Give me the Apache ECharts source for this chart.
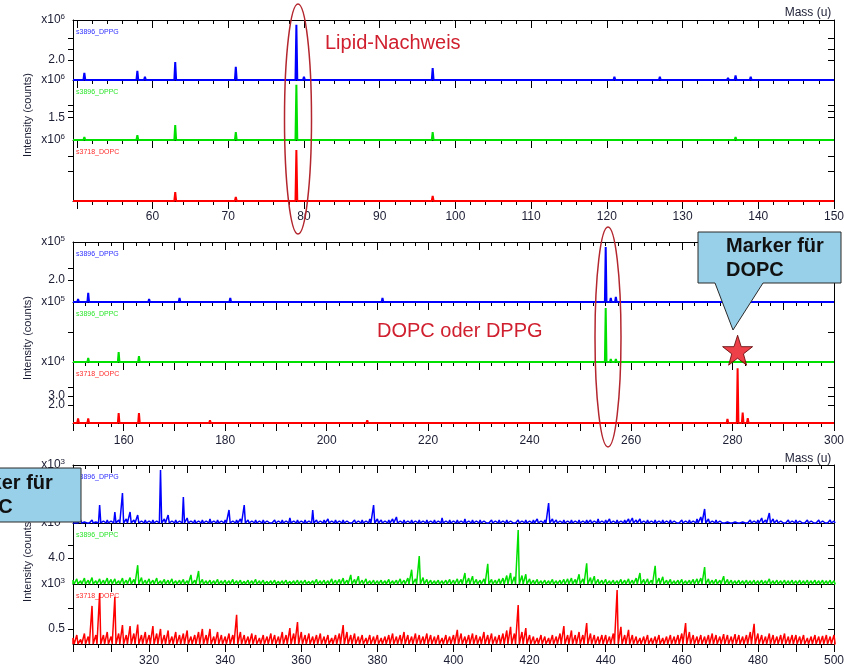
<!DOCTYPE html>
<html><head><meta charset="utf-8">
<script src="https://cdn.jsdelivr.net/npm/echarts@6/dist/echarts.min.js"></script>
<style>html,body{margin:0;padding:0;background:#fff;overflow:hidden}#c{width:844px;height:667px}</style>
</head><body><div id="c"></div>
<script>
// ================= DATA =================
const sampleNames = ['s3896_DPPG', 's3896_DPPC', 's3718_DOPC'];

// Panel 1: m/z 49.5 - 150  (peaks: [mass, intensity])
const p1Range = [49.5, 150];
const p1Blue  = [[51,1.42],[55,1.15],[58,1.51],[59,1.24],[63,1.91],[65,1.17],[69,1.15],[71,1.69],[73,1.17],[77,1.15],[79,3.58],[80,1.24],[81,1.17],[91,1.14],[95,1.17],[97,1.64],[98,1.17],[105,1.15],[111,1.19],[113,1.19],[121,1.24],[123,1.15],[127,1.24],[133,1.17],[136,1.2],[137,1.3],[139,1.24],[141,1.17],[145,1.15],[149,1.15]];
const p1Green = [[51,1.17],[55,1.14],[58,1.2],[63,1.37],[71,1.25],[79,2.04],[80,1.15],[95,1.14],[97,1.25],[111,1.14],[123,1.15],[127,1.14],[137,1.17],[141,1.14]];
const p1Red   = [[58,0.2],[63,0.9],[71,0.4],[79,5.1],[97,0.5],[123,0.15],[137,0.2]];
const p1BlueAxis  = {min:1.1,  max:3.8,  ticks:[2.0,2.5,3.0], labels:[2.0], exp:6};
const p1GreenAxis = {min:1.12, max:2.12, ticks:[1.5,1.6,1.7], labels:[1.5], exp:6};
const p1RedAxis   = {min:0,    max:6.1,  ticks:[3.0,4.5],     labels:[],    exp:6};

// Panel 2: m/z 150 - 300
const p2Range = [150, 300];
const p2Blue  = [[151,1.2],[153,1.46],[156,1.14],[161,1.14],[165,1.2],[167,1.14],[171,1.25],[175,1.14],[181,1.25],[185,1.14],[195,1.13],[209,1.14],[211,1.25],[213,1.15],[229,1.13],[237,1.13],[255,3.37],[256,1.25],[257,1.29],[267,1.12],[273,1.12]];
const p2Green = [[151,0.2],[153,0.4],[155,0.15],[159,1.0],[163,0.6],[167,0.15],[255,5.5],[256,0.3],[257,0.3]];
const p2Red   = [[151,0.5],[153,0.5],[159,1.1],[163,1.1],[165,0.2],[169,0.2],[177,0.3],[183,0.2],[195,0.2],[208,0.3],[223,0.15],[255,0.2],[279,0.45],[281,6.1],[282,1.15],[283,0.55],[284,0.2]];
const p2BlueAxis  = {min:1.08, max:3.58, ticks:[2.0,2.5],   labels:[2.0],     exp:5};
const p2GreenAxis = {min:0,    max:6.1,  ticks:[3.0],       labels:[],        exp:5};
const p2RedAxis   = {min:0,    max:6.8,  ticks:[2.0,3.0,4.0], labels:[2.0,3.0], exp:4};

// Panel 3: m/z 300 - 500, one value per nominal mass 300..500
const p3Start = 300;
const p3Range = [300, 500];
const p3Blue = [
 0.2,0.1,0.3,0.1,0.2,0.3,0.1,1.8,0.2,0.3, 0.2,1.1,0.3,3.0,0.4,1.1,0.3,0.8,0.2,0.3,
 0.2,0.3,0.2,5.3,0.4,0.8,0.2,0.3,0.2,2.6, 0.5,0.2,0.3,0.2,0.3,0.2,0.4,0.2,0.3,0.2,
 0.3,1.3,0.2,0.3,0.4,1.8,0.3,0.2,0.3,0.2, 0.3,0.2,0.2,0.3,0.2,0.3,0.2,0.5,0.2,0.3,
 0.2,0.3,0.2,1.3,0.3,0.2,0.3,0.4,0.2,0.3, 0.2,0.3,0.2,0.2,0.3,0.2,0.3,0.2,0.4,1.8,
 0.4,0.3,0.2,0.3,0.4,0.6,0.2,0.3,0.2,0.3, 0.2,0.3,0.2,0.3,0.2,0.3,0.2,0.5,0.2,0.3,
 0.2,0.3,0.2,0.4,0.2,0.3,0.2,0.3,0.2,0.2, 0.3,0.2,0.3,0.2,0.3,0.2,0.2,0.3,0.2,0.3,
 0.2,0.3,0.4,0.2,0.3,2.0,0.4,0.3,0.2,0.3, 0.2,0.3,0.2,0.3,0.2,0.3,0.3,0.2,0.4,0.2,
 0.3,0.4,0.2,0.3,0.2,0.3,0.4,0.5,0.3,0.4, 0.2,0.3,0.2,0.3,0.2,0.3,0.2,0.3,0.2,0.2,
 0.3,0.2,0.3,0.2,0.4,0.6,1.4,0.4,0.2,0.3, 0.2,0.2,0.1,0.2,0.1,0.2,0.1,0.2,0.3,0.2,
 0.3,0.5,0.3,1.0,0.4,0.3,0.2,0.2,0.3,0.2, 0.3,0.2,0.2,0.3,0.2,0.2,0.3,0.2,0.2,0.3,
 0.2];
const p3Green = [
 0.6,0.8,0.5,0.9,0.6,1.0,0.5,0.8,0.6,0.9, 0.7,0.8,0.5,0.9,0.6,1.0,0.7,2.9,1.0,0.6,
 0.8,0.6,0.9,0.5,0.7,0.6,0.8,0.5,0.6,0.7, 0.5,1.4,0.6,2.0,0.7,0.5,0.6,0.5,0.7,0.5,
 0.6,0.5,0.7,0.5,0.6,0.4,0.6,0.5,0.7,0.5, 0.6,0.4,0.5,0.6,0.4,0.5,0.6,0.4,0.5,0.6,
 0.5,0.6,0.4,0.5,0.7,0.5,0.6,0.5,0.8,0.6, 0.7,0.9,0.6,1.4,0.7,1.2,0.6,0.8,0.5,0.6,
 0.5,0.6,0.5,0.7,0.5,0.6,0.8,0.6,0.9,2.2, 0.8,4.3,1.0,0.7,0.6,0.5,0.6,0.5,0.6,0.7,
 0.6,0.8,0.7,1.7,0.9,1.2,0.7,0.6,0.8,3.1, 0.7,0.6,0.8,0.9,1.3,1.7,1.1,8.3,1.3,1.5,
 0.8,0.6,0.7,0.5,0.6,0.5,0.7,0.5,0.6,0.7, 0.8,0.9,0.7,1.5,0.8,3.2,1.0,1.2,0.7,0.6,
 0.7,0.5,0.6,0.5,0.7,0.6,0.8,0.6,0.9,1.7, 0.7,0.8,0.6,2.8,0.9,1.1,0.6,0.7,0.5,0.6,
 0.7,0.5,0.6,0.7,0.8,0.9,2.6,0.8,0.6,0.7, 0.6,1.2,0.7,0.6,0.5,0.6,0.5,0.6,0.5,0.6,
 0.5,0.6,0.5,0.8,0.5,0.6,0.5,0.6,0.5,0.6, 0.5,0.6,0.5,0.6,0.5,0.6,0.5,0.6,0.5,0.6,
 0.5];
const p3Red = [
 0.2,0.3,0.15,0.35,0.25,1.27,0.3,1.7,0.3,0.4, 0.25,1.57,0.35,0.63,0.3,0.6,0.35,0.65,0.3,0.4,
 0.3,0.6,0.35,0.5,0.3,0.45,0.25,0.4,0.3,0.35, 0.45,0.25,0.3,0.4,0.5,0.3,0.5,0.25,0.4,0.3,
 0.25,0.35,0.3,0.97,0.4,0.3,0.25,0.35,0.3,0.2, 0.3,0.25,0.35,0.3,0.25,0.4,0.3,0.53,0.35,0.73,
 0.4,0.3,0.35,0.25,0.3,0.35,0.25,0.3,0.2,0.3, 0.35,0.63,0.4,0.3,0.35,0.25,0.3,0.2,0.3,0.25,
 0.3,0.2,0.25,0.3,0.35,0.25,0.3,0.4,0.3,0.25, 0.35,0.3,0.25,0.35,0.3,0.25,0.3,0.2,0.3,0.25,
 0.3,0.47,0.35,0.25,0.3,0.35,0.3,0.25,0.4,0.3, 0.35,0.25,0.3,0.35,0.45,0.57,0.35,1.3,0.4,0.53,
 0.3,0.25,0.2,0.3,0.25,0.2,0.3,0.25,0.35,0.6, 0.3,0.45,0.3,0.4,0.3,0.7,0.35,0.3,0.25,0.3,
 0.3,0.25,0.35,1.8,0.57,0.3,0.47,0.3,0.25,0.2, 0.25,0.3,0.2,0.25,0.3,0.2,0.25,0.3,0.25,0.3,
 0.35,0.7,0.4,0.3,0.25,0.3,0.25,0.3,0.35,0.3, 0.25,0.33,0.3,0.25,0.33,0.3,0.25,0.3,0.4,0.67,
 0.35,0.3,0.25,0.35,0.3,0.25,0.3,0.35,0.25,0.3, 0.3,0.25,0.3,0.2,0.25,0.3,0.25,0.27,0.3,0.25,
 0.3];
const p3BlueAxis  = {min:0, max:5.8, ticks:[2.4,3.6], labels:[],    exp:3};
const p3GreenAxis = {min:0, max:9.4, ticks:[4.0,6.0], labels:[4.0], exp:3};
const p3RedAxis   = {min:0, max:2.0, ticks:[0.5,1.2], labels:[0.5], exp:3};

// Annotation marker (star) on the DOPC marker peak
const markerMass = 281;
const markerLevel = 1.2;   // position in green (panel 2) units

// ================= LAYOUT / STYLE =================
const LEFT = 73, WIDTH = 761;
const COLORS = ['#0000ff', '#00e000', '#ff0000'];
const TXT = '#1b1d33';
const FONT = 'Liberation Sans, Arial, sans-serif';

function toPeaks(vals, start) { return vals.map((v, i) => [start + i, v]); }

const panels = [
  {range:p1Range, major:10, minor:2, labelStart:60, labelStep:10, tops:[20,80,140], heights:[60,60,61], labelMargin:10, hw:0.12, lw:2,
   traces:[[p1Blue,p1BlueAxis],[p1Green,p1GreenAxis],[p1Red,p1RedAxis]]},
  {range:p2Range, major:10, minor:2.5, labelStart:160, labelStep:20, tops:[242,302,362], heights:[60,60,61], labelMargin:12, hw:0.16, lw:2,
   traces:[[p2Blue,p2BlueAxis],[p2Green,p2GreenAxis],[p2Red,p2RedAxis]]},
  {range:p3Range, major:10, minor:10/3, labelStart:320, labelStep:20, tops:[465,523,584], heights:[58,61,60], labelMargin:11, hw:0.3, lw:1.5,
   traces:[[toPeaks(p3Blue,p3Start),p3BlueAxis],[toPeaks(p3Green,p3Start),p3GreenAxis],[toPeaks(p3Red,p3Start),p3RedAxis]]}
];

function spikes(peaks, base, hw, range) {
  const d = [[range[0], base]];
  peaks.slice().sort((a,b)=>a[0]-b[0]).forEach(([m,v]) => {
    d.push([m-hw, base], [m, v], [m+hw, base]);
  });
  d.push([range[1], base]);
  return d;
}
function seq(start, step, end) {
  const out = [];
  for (let i = 0; start + i*step <= end + 1e-6; i++) out.push(+(start + i*step).toFixed(4));
  return out;
}
const richY = {b:{fontSize:12, color:TXT, fontFamily:FONT}, s:{fontSize:8, color:TXT, fontFamily:FONT, padding:[0,0,6,0]}};

const grids = [], xAxis = [], yAxis = [], series = [];
let starGrid = null;

panels.forEach((p, pi) => {
  const majStart = Math.ceil(p.range[0]/p.major)*p.major;
  const majors = seq(majStart, p.major, p.range[1]);
  const minors = seq(majStart, p.minor, p.range[1]);
  const labels = seq(p.labelStart, p.labelStep, p.range[1]);
  p.traces.forEach((tr, ti) => {
    const [peaks, ax] = tr;
    const gi = grids.length;
    grids.push({left:LEFT, width:WIDTH, top:p.tops[ti], height:p.heights[ti], outerBoundsMode:'none', containLabel:false});
    const isBottom = ti === 2, isTop = ti === 0;
    const baseX = {gridIndex:gi, type:'value', min:p.range[0], max:p.range[1], splitLine:{show:false}};
    const xi = xAxis.length;
    xAxis.push(Object.assign({}, baseX, {position:'bottom',
      axisLine:{show:true, onZero:false, lineStyle:{color:'#000', width:1}},
      axisTick:{show:true, customValues:majors, length:8, inside:false, lineStyle:{color:'#000', width:1}},
      axisLabel: isBottom ? {show:true, customValues:labels, margin:p.labelMargin, fontSize:12, color:TXT, fontFamily:FONT, hideOverlap:false, formatter:v=>String(v)} : {show:false}
    }));
    xAxis.push(Object.assign({}, baseX, {position:'bottom',
      axisLine:{show:false, onZero:false},
      axisTick:{show:true, customValues:minors, length:4, inside:false, lineStyle:{color:'#000', width:1}},
      axisLabel:{show:false}}));
    if (isTop) {
      xAxis.push(Object.assign({}, baseX, {position:'top',
        axisLine:{show:true, onZero:false, lineStyle:{color:'#000', width:1}},
        axisTick:{show:true, customValues:majors, length:8, inside:true, lineStyle:{color:'#000', width:1}},
        axisLabel:{show:false}}));
      xAxis.push(Object.assign({}, baseX, {position:'top',
        axisLine:{show:false, onZero:false},
        axisTick:{show:true, customValues:minors, length:4, inside:true, lineStyle:{color:'#000', width:1}},
        axisLabel:{show:false}}));
    }
    const yi = yAxis.length;
    yAxis.push({gridIndex:gi, type:'value', position:'left', min:ax.min, max:ax.max, splitLine:{show:false},
      axisLine:{show:true, onZero:false, lineStyle:{color:'#000', width:1}},
      axisTick:{show:true, customValues:ax.ticks, length:5, inside:false, lineStyle:{color:'#000', width:1}},
      axisLabel:{show:true, customValues:[ax.max], margin:8, hideOverlap:false, color:TXT, fontFamily:FONT, fontSize:12,
        formatter: () => '{b|x10}{s|' + ax.exp + '}', rich:richY}
    });
    // numeric labels, each on its own label-only axis so overlapping labels are all drawn
    ax.labels.forEach(lv => {
      yAxis.push({gridIndex:gi, type:'value', position:'left', min:ax.min, max:ax.max, splitLine:{show:false},
        axisLine:{show:false, onZero:false}, axisTick:{show:false},
        axisLabel:{show:true, customValues:[lv], margin:8, hideOverlap:false, color:TXT, fontFamily:FONT, fontSize:12,
          formatter: v => v.toFixed(1)}});
    });
    yAxis.push({gridIndex:gi, type:'value', position:'right', min:ax.min, max:ax.max, splitLine:{show:false},
      axisLine:{show:true, onZero:false, lineStyle:{color:'#000', width:1}},
      axisTick:{show:true, customValues:ax.ticks, length:6, inside:true, lineStyle:{color:'#000', width:1}},
      axisLabel:{show:false}});
    series.push({type:'line', xAxisIndex:xi, yAxisIndex:yi, data:spikes(peaks, ax.min, p.hw, p.range),
      showSymbol:false, symbol:'none', clip:false, z:3,
      lineStyle:{color:COLORS[ti], width:p.lw}, itemStyle:{color:COLORS[ti]}});
    if (pi === 1 && ti === 1) starGrid = {xi, yi};
  });
});

// star marker
series.push({type:'scatter', xAxisIndex:starGrid.xi, yAxisIndex:starGrid.yi, z:20,
  data:[[markerMass, markerLevel]],
  symbol:'path://M50,0 L61.8,35.1 L98.9,35.1 L69.1,57.3 L79.4,91.9 L50,70.6 L20.6,91.9 L30.9,57.3 L1.1,35.1 L38.2,35.1 Z',
  symbolSize:30, itemStyle:{color:'#e8101a', borderColor:'#5a0000', borderWidth:1}});

// ================= ANNOTATIONS =================
const graphic = [];
panels.forEach(p => p.tops.forEach((t, ti) => {
  graphic.push({type:'text', x:76, y:t+12, z:5, style:{text:sampleNames[ti], fill:COLORS[ti], font:'7px ' + FONT, verticalAlign:'middle', opacity:0.85}});
}));
[115, 338, 560].forEach(cy => graphic.push({type:'text', x:28, y:cy, rotation:Math.PI/2, z:5,
  style:{text:'Intensity (counts)', fill:TXT, font:'11px ' + FONT, align:'center', verticalAlign:'middle'}}));
[13, 459].forEach(cy => graphic.push({type:'text', x:808, y:cy, z:5,
  style:{text:'Mass (u)', fill:TXT, font:'12px ' + FONT, align:'center', verticalAlign:'middle'}}));
graphic.push({type:'ellipse', z:50, shape:{cx:298, cy:119, rx:13.5, ry:115}, style:{fill:'none', stroke:'#b3262e', lineWidth:1.5}});
graphic.push({type:'ellipse', z:50, shape:{cx:608, cy:337, rx:13, ry:110}, style:{fill:'none', stroke:'#b3262e', lineWidth:1.5}});
graphic.push({type:'text', x:325, y:43, z:50, style:{text:'Lipid-Nachweis', fill:'#d0202f', font:'20px ' + FONT, verticalAlign:'middle'}});
graphic.push({type:'text', x:377, y:331, z:50, style:{text:'DOPC oder DPPG', fill:'#d0202f', font:'20px ' + FONT, verticalAlign:'middle'}});
graphic.push({type:'polygon', z:60, shape:{points:[[698,232],[841,232],[841,283],[763,283],[733,330],[715,283],[698,283]]},
  style:{fill:'#98cfe9', stroke:'#2a2a2a', lineWidth:1}});
graphic.push({type:'text', x:726, y:246, z:61, style:{text:'Marker für', fill:'#111', font:'bold 20px ' + FONT, verticalAlign:'middle'}});
graphic.push({type:'text', x:726, y:270, z:61, style:{text:'DOPC', fill:'#111', font:'bold 20px ' + FONT, verticalAlign:'middle'}});
graphic.push({type:'rect', z:60, shape:{x:-10, y:468, width:91, height:54}, style:{fill:'#98cfe9', stroke:'#2a2a2a', lineWidth:1}});
graphic.push({type:'text', x:-45, y:483, z:61, style:{text:'Marker für', fill:'#111', font:'bold 20px ' + FONT, verticalAlign:'middle'}});
graphic.push({type:'text', x:-45, y:507, z:61, style:{text:'DOPC', fill:'#111', font:'bold 20px ' + FONT, verticalAlign:'middle'}});

const chart = echarts.init(document.getElementById('c'), null, {renderer:'canvas'});
chart.setOption({animation:false, backgroundColor:'#fff', grid:grids, xAxis, yAxis, series, graphic});
</script>
</body></html>
